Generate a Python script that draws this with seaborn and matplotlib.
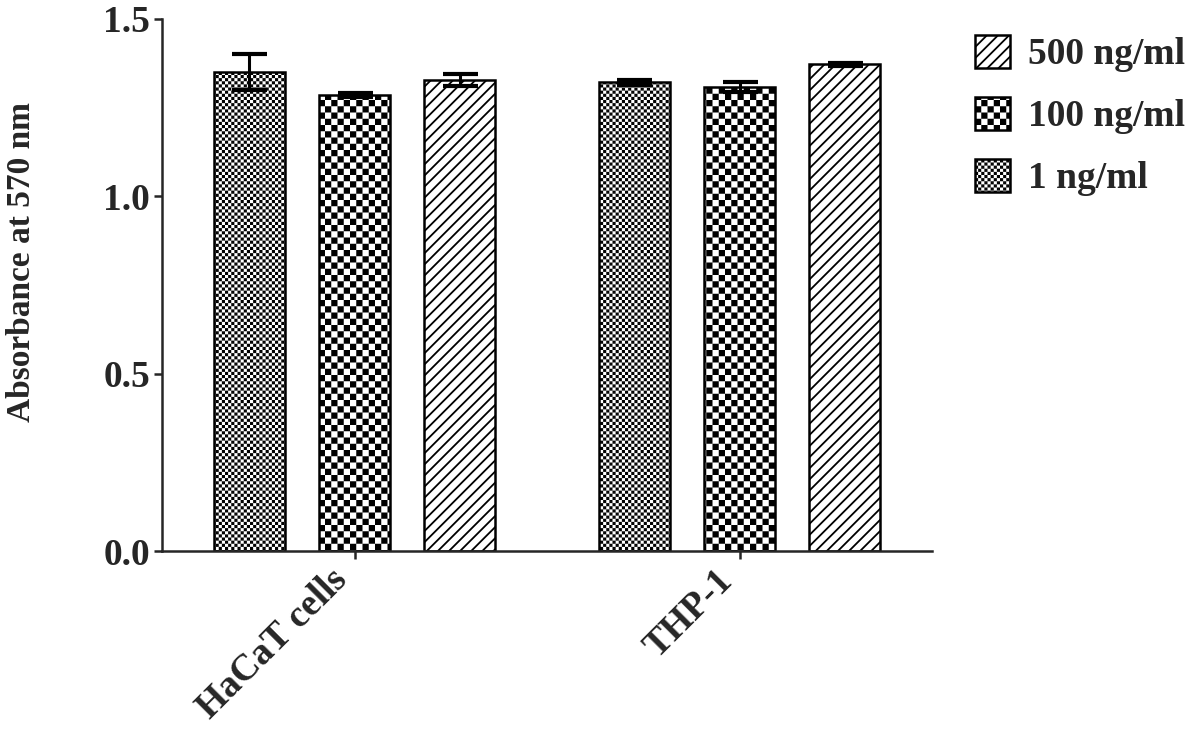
import numpy as np
import pandas as pd
import seaborn as sns
import matplotlib
matplotlib.use("Agg")
import matplotlib.pyplot as plt
import matplotlib.hatch as mhatch
from matplotlib.path import Path

# values
cells = ["HaCaT cells", "THP-1"]
concs = ["1 ng/ml", "100 ng/ml", "500 ng/ml"]
means_1 = [1.350, 1.321]
means_100 = [1.286, 1.307]
means_500 = [1.328, 1.372]
err_1 = [0.051, 0.008]
err_100 = [0.005, 0.014]
err_500 = [0.016, 0.005]

HATCH_LW = 1.3  # points


class CheckerHatch(mhatch.HatchPatternBase):
    """'.' hatch drawn as a filled checkerboard (8 cells per '.')."""

    def __init__(self, hatch, density):
        self.n = hatch.count('.') * 8
        self.num_vertices = (self.n * self.n // 2) * 5

    def set_vertices_and_codes(self, vertices, codes):
        n = self.n
        cell = 1.0 / n
        # shrink so the stroke of the hatch line brings squares back to size
        inset = (HATCH_LW * 100 / 72) / 2 / 100
        k = 0
        for i in range(n):
            for j in range(n):
                if (i + j) % 2:
                    continue
                x0, y0 = i * cell + inset, j * cell + inset
                x1, y1 = (i + 1) * cell - inset, (j + 1) * cell - inset
                vertices[k:k + 5] = [(x0, y0), (x1, y0), (x1, y1), (x0, y1), (x0, y0)]
                codes[k:k + 5] = [Path.MOVETO, Path.LINETO, Path.LINETO,
                                  Path.LINETO, Path.CLOSEPOLY]
                k += 5


mhatch._hatch_types = [t for t in mhatch._hatch_types
                       if t is not mhatch.SmallFilledCircles] + [CheckerHatch]

df = pd.DataFrame({
    "cell": cells * 3,
    "conc": [c for c in concs for _ in cells],
    "absorbance": means_1 + means_100 + means_500,
    "err": err_1 + err_100 + err_500,
})

sns.set_style("ticks")
plt.rcParams["font.family"] = ["Liberation Serif", "DejaVu Serif"]
plt.rcParams["font.weight"] = "bold"
plt.rcParams["hatch.linewidth"] = HATCH_LW
plt.rcParams["hatch.color"] = "black"

fig = plt.figure(figsize=(11.92, 7.41), dpi=100)
ax = fig.add_axes([0.1359, 0.2564, 0.646, 0.718])

sns.barplot(data=df, x="cell", y="absorbance", hue="conc",
            order=cells, hue_order=concs, palette=["white"] * 3,
            width=0.82, gap=0.33, errorbar=None, edgecolor="black",
            linewidth=1.8, legend=False, ax=ax)

bar_containers = list(ax.containers)
hatches = {"1 ng/ml": "....", "100 ng/ml": "..", "500 ng/ml": "///"}
for cont, conc in zip(bar_containers, concs):
    sub = df[df["conc"] == conc].set_index("cell").loc[cells]
    xs = [p.get_x() + p.get_width() / 2 for p in cont.patches]
    for p in cont.patches:
        p.set_hatch(hatches[conc])
        p.set_edgecolor("black")
    ax.errorbar(xs, sub["absorbance"], yerr=sub["err"], fmt="none",
                ecolor="black", elinewidth=2.2, capsize=12.6, capthick=3)

ax.set_ylim(0, 1.5)
ax.set_xlim(-0.5, 1.5)
ax.set_yticks([0, 0.5, 1.0, 1.5])
ax.set_xlabel("")
ax.set_ylabel("Absorbance at 570 nm", fontsize=24, fontweight="bold")
ax.yaxis.set_label_coords(-0.162, 0.543)
ax.tick_params(axis="both", labelsize=27, width=1.8, length=5.5, pad=3)
plt.setp(ax.get_xticklabels(), rotation=45, ha="right")
for sp in ["left", "bottom"]:
    ax.spines[sp].set_linewidth(1.8)
sns.despine(ax=ax)

leg = fig.legend(bar_containers[::-1], concs[::-1], loc="upper left",
                 bbox_to_anchor=(0.818, 0.953), frameon=False,
                 fontsize=27, handlelength=0.93, handleheight=1.0,
                 handletextpad=0.48, labelspacing=0.65, borderpad=0,
                 borderaxespad=0)

fig.savefig("out.png", dpi=100)
